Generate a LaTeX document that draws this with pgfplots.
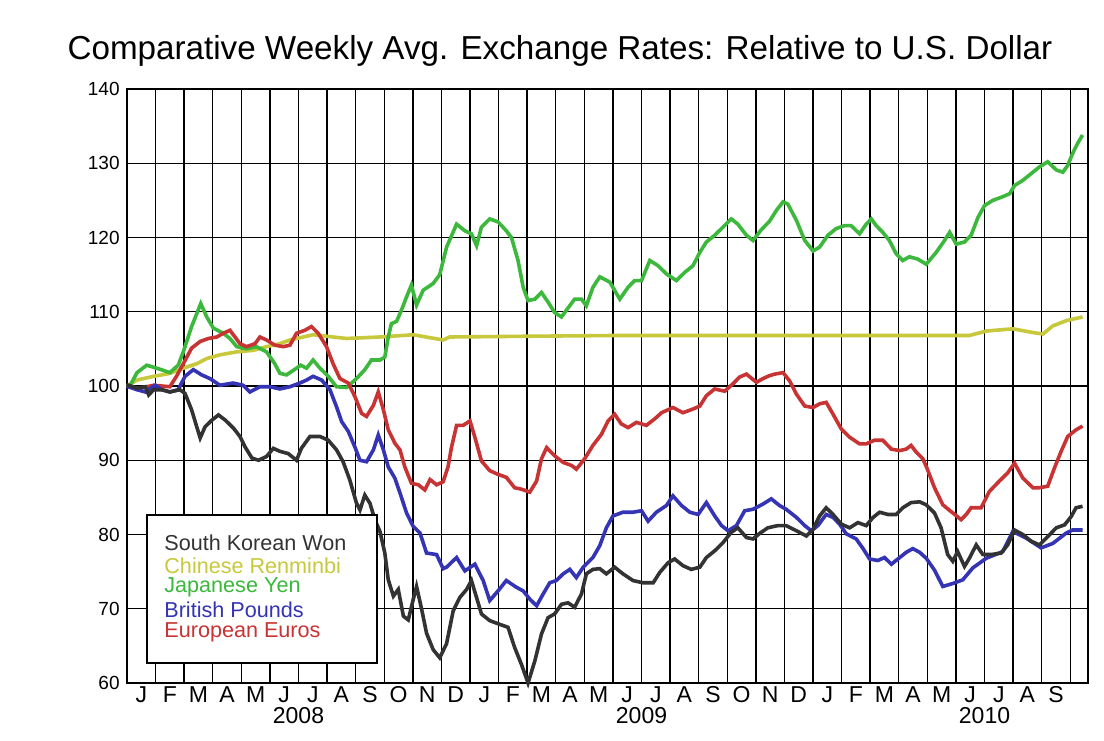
\documentclass[border=0pt]{standalone}
\usepackage{pgfplots}
\pgfplotsset{compat=1.18}
\usepackage{fontspec}
\setmainfont{Liberation Sans}
\definecolor{cwon}{HTML}{333333}
\definecolor{cyuan}{HTML}{C8C83C}
\definecolor{cyen}{HTML}{3CB83C}
\definecolor{cgbp}{HTML}{3434B4}
\definecolor{ceur}{HTML}{C83434}
\begin{document}
\begin{tikzpicture}
\fill[white] (-63.5pt,-28.5pt) rectangle (488.5pt,341.5pt);
\useasboundingbox (-63.5pt,-28.5pt) rectangle (488.5pt,341.5pt);
\begin{axis}[
  at={(0,0)}, anchor=south west,
  scale only axis, width=480.5pt, height=297pt,
  xmin=0, xmax=33.62, ymin=60, ymax=140,
  axis line style={line width=0.8pt},
  xtick={0.5,1.5,...,32.5},
  xticklabels={J,F,M,A,M,J,J,A,S,O,N,D,J,F,M,A,M,J,J,A,S,O,N,D,J,F,M,A,M,J,J,A,S},
  major x tick style={draw=none},
  xticklabel style={font=\fontsize{11.5}{13}\selectfont, inner sep=0pt, yshift=-1.5pt, anchor=north},
  extra x ticks={1,2,...,33},
  extra x tick labels={},
  extra x tick style={grid=major, major tick length=4pt, tick align=outside, tick style={line width=0.7pt, black}},
  ytick={60,70,...,140},
  ymajorgrids,
  major y tick style={draw=none},
  yticklabel style={font=\fontsize{9.5}{11}\selectfont, inner sep=0pt, xshift=-3.5pt},
  /pgf/number format/assume math mode=true,
  grid style={line width=0.7pt, black},
  clip=false,
]
\addplot[cyuan, line width=1.8pt] coordinates {
(0,100) (0.35,100.8) (0.93,101.3) (1.50,101.7) (1.97,102.4) (2.44,103.0) (2.79,103.7) (3.25,104.2) (3.84,104.6) (4.41,104.8) (4.88,105.3) (5.35,105.7) (5.70,106.2) (6.51,106.9) (7.68,106.4) (8.85,106.6) (10.01,106.9) (11.06,106.2) (11.29,106.6) (14,106.7) (17,106.8) (20,106.8) (23,106.8) (26,106.8) (29.47,106.8) (30.06,107.4) (30.99,107.7) (31.69,107.2) (32.04,107.0) (32.39,108.1) (32.86,108.8) (33.43,109.3)
};
\addplot[cyen, line width=1.8pt] coordinates {
(0,100) (0.1,100) (0.35,101.8) (0.69,102.8) (1.04,102.4) (1.50,101.8) (1.79,102.8) (1.97,104.6) (2.26,108.0) (2.58,111.1) (2.79,109.3) (3.02,107.8) (3.37,107.1) (3.60,106.4) (3.84,105.3) (4.18,105.0) (4.53,105.3) (4.88,104.6) (5.17,103.0) (5.35,101.7) (5.58,101.5) (5.93,102.4) (6.08,102.8) (6.28,102.4) (6.51,103.5) (6.75,102.4) (7.04,101.3) (7.33,99.9) (7.68,99.8) (8.03,101.0) (8.32,102.2) (8.55,103.5) (8.85,103.5) (9.02,103.9) (9.14,106.6) (9.25,108.4) (9.43,108.7) (9.60,110.2) (9.78,112.0) (9.95,113.6) (10.13,110.9) (10.36,112.9) (10.71,113.8) (10.94,115.0) (11.18,118.7) (11.53,121.8) (11.82,120.9) (12.05,120.5) (12.23,118.9) (12.40,121.4) (12.69,122.5) (12.98,122.1) (13.27,120.9) (13.45,120.0) (13.68,116.9) (13.86,113.3) (14.03,111.5) (14.27,111.7) (14.50,112.6) (14.73,111.3) (14.96,109.9) (15.20,109.3) (15.37,110.2) (15.66,111.7) (15.90,111.7) (16.07,110.8) (16.30,113.3) (16.54,114.7) (16.89,114.0) (17.24,111.7) (17.53,113.3) (17.76,114.2) (18.00,114.2) (18.29,116.9) (18.58,116.2) (18.87,115.1) (19.22,114.2) (19.51,115.3) (19.80,116.2) (20.04,118.0) (20.27,119.4) (20.56,120.3) (20.85,121.4) (21.14,122.5) (21.37,121.8) (21.67,120.3) (21.90,119.6) (22.18,121.0) (22.48,122.2) (22.71,123.6) (22.95,124.8) (23.12,124.5) (23.42,122.3) (23.71,119.6) (24.00,118.2) (24.23,118.7) (24.52,120.3) (24.81,121.2) (25.10,121.6) (25.33,121.6) (25.63,120.5) (25.86,121.8) (26.04,122.5) (26.21,121.6) (26.44,120.7) (26.67,119.6) (26.91,117.8) (27.14,116.9) (27.37,117.4) (27.66,117.1) (27.96,116.4) (28.31,118.0) (28.60,119.6) (28.78,120.7) (29.01,119.1) (29.30,119.4) (29.53,120.3) (29.77,122.7) (30.00,124.3) (30.29,125.0) (30.64,125.5) (30.88,125.9) (31.05,127.0) (31.34,127.7) (31.63,128.6) (31.92,129.5) (32.21,130.2) (32.51,129.1) (32.74,128.8) (32.91,129.7) (33.08,131.3) (33.26,132.7) (33.43,133.8)
};
\addplot[ceur, line width=1.8pt] coordinates {
(0,100) (0.05,99.9) (0.47,99.7) (0.93,100.1) (1.50,99.9) (1.73,101.3) (1.97,103.0) (2.26,105.1) (2.56,106.0) (2.85,106.4) (3.14,106.6) (3.37,107.1) (3.60,107.5) (3.78,106.6) (3.95,105.7) (4.18,105.3) (4.48,105.7) (4.65,106.6) (4.88,106.2) (5.17,105.5) (5.47,105.3) (5.70,105.5) (5.93,107.1) (6.22,107.5) (6.45,108.0) (6.69,107.1) (6.98,105.3) (7.21,103.0) (7.45,101.0) (7.74,100.4) (7.97,98.6) (8.21,96.3) (8.38,95.9) (8.62,97.4) (8.79,99.2) (8.97,96.8) (9.14,94.1) (9.37,92.3) (9.55,91.4) (9.72,89.1) (9.95,86.9) (10.19,86.7) (10.42,86.0) (10.60,87.4) (10.83,86.7) (11.06,87.1) (11.23,89.1) (11.35,91.7) (11.53,94.7) (11.76,94.7) (12.00,95.3) (12.17,93.1) (12.40,89.9) (12.69,88.6) (12.98,88.1) (13.27,87.7) (13.56,86.3) (13.80,86.1) (14.09,85.7) (14.33,87.2) (14.50,90.2) (14.68,91.7) (14.96,90.6) (15.26,89.7) (15.55,89.3) (15.72,88.8) (16.01,90.2) (16.30,92.0) (16.60,93.5) (16.83,95.3) (17.06,96.2) (17.29,94.9) (17.53,94.4) (17.82,95.1) (18.17,94.7) (18.47,95.6) (18.70,96.4) (19.10,97.1) (19.45,96.4) (19.80,96.9) (20.04,97.3) (20.27,98.7) (20.56,99.6) (20.91,99.3) (21.20,100.3) (21.43,101.2) (21.67,101.6) (22.02,100.5) (22.25,101.0) (22.48,101.4) (22.66,101.6) (22.95,101.8) (23.18,100.7) (23.42,98.9) (23.71,97.3) (24.00,97.1) (24.23,97.6) (24.46,97.8) (24.70,96.2) (24.99,94.2) (25.28,93.1) (25.63,92.2) (25.86,92.2) (26.15,92.7) (26.44,92.7) (26.74,91.5) (27.03,91.3) (27.26,91.5) (27.43,92.0) (27.61,91.1) (27.84,90.2) (27.98,89.0) (28.25,86.3) (28.54,84.0) (28.89,82.9) (29.18,82.0) (29.36,82.7) (29.53,83.6) (29.88,83.6) (30.17,85.8) (30.52,87.2) (30.81,88.3) (31.05,89.6) (31.34,87.6) (31.69,86.3) (31.92,86.3) (32.21,86.5) (32.45,89.0) (32.68,91.2) (32.91,93.2) (33.20,94.1) (33.43,94.6)
};
\addplot[cgbp, line width=1.8pt] coordinates {
(0,100) (0.05,99.9) (0.35,99.5) (0.64,99.2) (0.99,100.1) (1.22,99.5) (1.50,99.2) (1.79,99.5) (2.03,101.3) (2.32,102.2) (2.61,101.5) (2.90,101.0) (3.25,100.1) (3.71,100.4) (4.06,100.1) (4.30,99.2) (4.65,99.9) (5.00,99.9) (5.35,99.6) (5.70,99.9) (6.05,100.4) (6.28,100.8) (6.51,101.3) (6.81,100.8) (7.10,99.5) (7.33,97.2) (7.51,95.2) (7.74,93.9) (7.97,91.8) (8.15,90.0) (8.38,89.8) (8.62,91.4) (8.79,93.4) (8.97,91.4) (9.14,89.1) (9.37,87.6) (9.55,85.6) (9.78,82.9) (10.01,81.1) (10.25,80.2) (10.48,77.5) (10.83,77.3) (11.06,75.4) (11.18,75.6) (11.53,76.9) (11.82,75.1) (12.17,76.0) (12.46,73.8) (12.69,71.1) (12.98,72.4) (13.27,73.8) (13.62,72.9) (13.86,72.4) (14.09,71.3) (14.33,70.4) (14.56,72.0) (14.79,73.5) (15.02,73.8) (15.26,74.7) (15.49,75.3) (15.72,74.2) (15.96,75.6) (16.30,76.9) (16.54,78.5) (16.77,80.9) (17.00,82.5) (17.35,83.0) (17.70,83.0) (18.00,83.2) (18.23,81.8) (18.52,83.0) (18.87,83.9) (19.10,85.2) (19.40,83.9) (19.69,83.0) (19.98,82.7) (20.27,84.3) (20.56,82.5) (20.80,81.2) (21.03,80.5) (21.32,81.2) (21.61,83.2) (21.90,83.4) (22.25,84.1) (22.54,84.8) (22.83,83.9) (23.06,83.4) (23.42,82.3) (23.71,81.2) (23.94,80.5) (24.17,81.2) (24.46,82.7) (24.70,82.3) (24.93,81.4) (25.16,80.1) (25.51,79.4) (25.75,78.1) (25.98,76.7) (26.27,76.5) (26.50,76.9) (26.74,76.0) (26.97,76.7) (27.26,77.6) (27.49,78.1) (27.73,77.6) (27.96,76.8) (28.25,75.2) (28.54,73.0) (28.89,73.4) (29.24,73.9) (29.59,75.5) (30.06,76.8) (30.64,77.7) (30.99,80.4) (31.46,79.5) (31.98,78.2) (32.39,78.8) (32.86,80.2) (33.08,80.6) (33.43,80.6)
};
\addplot[cwon, line width=1.8pt] coordinates {
(0,100) (0.05,100.1) (0.35,99.7) (0.64,99.9) (0.76,98.8) (0.93,99.5) (1.22,99.5) (1.50,99.2) (1.85,99.5) (2.03,99.0) (2.26,96.8) (2.44,94.5) (2.56,93.0) (2.73,94.5) (2.97,95.4) (3.20,96.1) (3.44,95.4) (3.73,94.3) (3.95,93.2) (4.13,91.8) (4.37,90.3) (4.60,90.0) (4.88,90.5) (5.12,91.6) (5.35,91.2) (5.64,90.9) (5.93,90.0) (6.10,91.6) (6.40,93.2) (6.75,93.2) (7.04,92.7) (7.33,91.4) (7.56,89.8) (7.79,87.4) (8.03,84.2) (8.15,83.3) (8.32,85.3) (8.50,84.2) (8.67,82.0) (8.85,80.4) (9.02,77.5) (9.14,73.9) (9.32,71.7) (9.49,72.6) (9.67,69.0) (9.84,68.5) (10.01,71.2) (10.13,73.0) (10.31,69.9) (10.48,66.7) (10.71,64.5) (10.94,63.4) (11.18,65.3) (11.41,69.7) (11.64,71.5) (11.88,72.6) (12.05,73.8) (12.23,71.5) (12.40,69.3) (12.69,68.4) (13.04,67.9) (13.33,67.5) (13.56,64.8) (13.80,62.5) (14.03,60.0) (14.27,63.0) (14.50,66.6) (14.73,68.8) (14.96,69.3) (15.20,70.6) (15.43,70.8) (15.66,70.2) (15.90,72.0) (16.07,74.7) (16.30,75.3) (16.54,75.4) (16.77,74.7) (17.06,75.6) (17.35,74.7) (17.70,73.8) (18.05,73.5) (18.41,73.5) (18.64,74.9) (18.93,76.2) (19.16,76.7) (19.45,75.8) (19.74,75.3) (20.04,75.6) (20.27,76.9) (20.56,77.8) (20.85,78.9) (21.14,80.3) (21.37,80.9) (21.67,79.6) (21.90,79.4) (22.15,80.2) (22.42,80.9) (22.77,81.2) (23.06,81.2) (23.42,80.5) (23.77,79.8) (24.00,80.7) (24.23,82.5) (24.46,83.6) (24.70,82.7) (24.99,81.4) (25.28,80.9) (25.57,81.6) (25.86,81.2) (26.10,82.3) (26.33,83.0) (26.62,82.7) (26.91,82.7) (27.14,83.6) (27.43,84.3) (27.73,84.4) (27.96,84.0) (28.25,82.9) (28.48,80.9) (28.71,77.3) (28.89,76.4) (29.06,77.7) (29.30,75.7) (29.47,76.8) (29.71,78.6) (29.94,77.3) (30.23,77.3) (30.58,77.5) (30.81,78.6) (31.05,80.6) (31.34,80.0) (31.63,79.1) (31.92,78.6) (32.21,79.7) (32.51,80.9) (32.80,81.3) (33.03,82.4) (33.20,83.6) (33.43,83.8)
};
\node[anchor=north, inner sep=0pt, font=\fontsize{11.5}{13}\selectfont] at (axis cs:6,60) [yshift=-12pt] {2008};
\node[anchor=north, inner sep=0pt, font=\fontsize{11.5}{13}\selectfont] at (axis cs:18,60) [yshift=-12pt] {2009};
\node[anchor=north, inner sep=0pt, font=\fontsize{11.5}{13}\selectfont] at (axis cs:30,60) [yshift=-12pt] {2010};
\end{axis}
\draw[fill=white, line width=0.8pt] (10pt,10pt) rectangle (125pt,84pt);
\begin{scope}[every node/.style={anchor=west, inner sep=0pt, font=\fontsize{10.8}{12}\selectfont}]
\node[text=cwon] at (18.5pt,70pt) {South Korean Won};
\node[text=cyuan] at (18.5pt,58.8pt) {Chinese Renminbi};
\node[text=cyen] at (18.5pt,47.6pt) {Japanese Yen};
\node[text=cgbp] at (18.5pt,36.4pt) {British Pounds};
\node[text=ceur] at (18.5pt,25.2pt) {European Euros};
\end{scope}
\node[anchor=base, inner sep=0pt, font=\fontsize{16.6}{20}\selectfont] at (216.5pt,311.5pt) {Comparative Weekly Avg. Exchange Rates: Relative to U.S. Dollar};
\end{tikzpicture}
\end{document}
